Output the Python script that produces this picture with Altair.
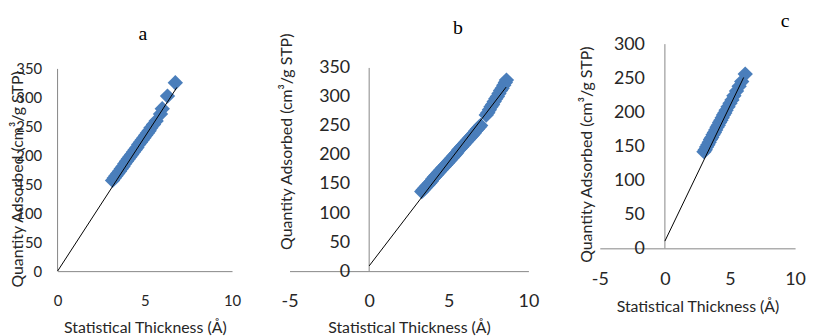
import altair as alt
import pandas as pd

# ---------------- data ----------------
a_thick = [3.15, 3.25, 3.35, 3.45, 3.55, 3.65, 3.75, 3.85, 3.95, 4.05, 4.15, 4.25, 4.35, 4.45,
           4.55, 4.65, 4.75, 4.85, 4.95, 5.05, 5.15, 5.25, 5.35, 5.5, 5.65, 5.9, 6.0, 6.3, 6.75]
a_qty = [157, 161, 165, 169, 173, 177, 181, 186, 190, 194, 198, 202, 206, 210,
         214, 219, 223, 227, 231, 235, 239, 243, 248, 254, 260, 272, 281, 303, 326]
a_fit_x = [0, 6.84]
a_fit_y = [0, 318]

b_thick = [3.3, 3.4, 3.5, 3.6, 3.7, 3.8, 3.9, 4.0, 4.1, 4.2, 4.3, 4.4, 4.5, 4.6, 4.7, 4.8, 4.9,
           5.0, 5.1, 5.2, 5.3, 5.4, 5.5, 5.6, 5.7, 5.8, 5.9, 6.0, 6.1, 6.2, 6.3, 6.4, 6.5, 6.6,
           6.7, 6.8, 6.9, 7.0,
           7.35, 7.45, 7.55, 7.65, 7.75, 7.85, 7.95, 8.05, 8.15, 8.25, 8.35, 8.45, 8.55, 8.62]
b_qty = [137, 140, 143, 146, 149, 152, 155, 159, 162, 165, 168, 171, 174, 177, 180, 183, 186,
         189, 192, 195, 198, 201, 204, 208, 211, 214, 217, 220, 223, 226, 229, 232, 235, 238,
         242, 245, 248, 251,
         269, 273, 278, 283, 287, 292, 297, 301, 306, 311, 315, 320, 325, 329]
b_fit_x = [0, 8.6]
b_fit_y = [9, 317]

c_thick = [3.0, 3.1, 3.2, 3.3, 3.4, 3.5, 3.6, 3.7, 3.8, 3.9, 4.0, 4.1, 4.2, 4.3, 4.4, 4.5,
           4.6, 4.7, 4.85, 5.0, 5.15, 5.3, 5.5, 5.7, 5.9, 6.17]
c_qty = [142, 145, 149, 152, 156, 160, 163, 167, 170, 174, 178, 181, 185, 188, 192, 196,
         199, 203, 208, 213, 218, 224, 231, 238, 245, 256]
c_fit_x = [0, 6.05]
c_fit_y = [10.6, 251]

x_ticks_a = [0, 5, 10]
x_ticks_bc = [-5, 0, 5, 10]
y_ticks_ab = [0, 50, 100, 150, 200, 250, 300, 350]
y_ticks_c = [0, 50, 100, 150, 200, 250, 300]
y_axis_end_ab = 350
y_axis_end_c = 300

X_TITLE = "Statistical Thickness (Å)"
Y_TITLE = "Quantity Adsorbed (cm³/g STP)"

MARK_COLOR = "#4A7EBB"
AXIS_COLOR = "#868686"
LABEL_FONT = "Lato"
TEXT_COLOR = "#262626"

one_row = pd.DataFrame({"k": [0]})


def panel(cfg):
    pts = pd.DataFrame({"x": cfg["xs"], "y": cfg["ys"]})
    fit = pd.DataFrame({"x": cfg["fx"], "y": cfg["fy"]})
    yline = pd.DataFrame({"x": [0], "y": [0], "y2": [cfg["yend"]]})
    xscale = alt.Scale(domain=cfg["xdom"], nice=False, zero=False)
    yscale = alt.Scale(domain=cfg["ydom"], nice=False, zero=False)
    xenc = alt.X(
        "x:Q",
        title=X_TITLE,
        scale=xscale,
        axis=alt.Axis(
            values=cfg["xticks"], ticks=False, grid=False, labelFlush=False,
            labelOverlap=False, domainColor=AXIS_COLOR, domainWidth=1,
            labelExpr="'' + datum.value",
            labelFont=LABEL_FONT, labelFontSize=cfg["lfs"], labelColor=TEXT_COLOR,
            labelPadding=cfg["xpad"],
            titleFont=LABEL_FONT, titleFontSize=cfg["tfs"], titleColor=TEXT_COLOR,
            titleFontWeight="normal", titleBaseline="alphabetic", titleY=cfg["xtitle_y"],
        ),
    )
    yenc = alt.Y(
        "y:Q",
        title=Y_TITLE,
        scale=yscale,
        axis=alt.Axis(
            values=cfg["yticks"], ticks=False, grid=False, labelOverlap=False,
            domain=False, offset=cfg["yoff"],
            labelFont=LABEL_FONT, labelFontSize=cfg["lfs"], labelColor=TEXT_COLOR,
            labelPadding=cfg["ypad"],
            titleFont=LABEL_FONT, titleFontSize=cfg["ytfs"], titleColor=TEXT_COLOR,
            titleFontWeight="normal", titleBaseline="alphabetic", titleAngle=270,
            titleAlign="center", titleX=cfg["ytitle_x"], titleY=cfg["ytitle_y"],
        ),
    )
    axis_line = alt.Chart(yline).mark_rule(color=AXIS_COLOR, strokeWidth=1).encode(
        x=xenc, y=yenc, y2="y2:Q"
    )
    points = alt.Chart(pts).mark_point(
        shape="diamond", filled=True, size=240, opacity=1, color=MARK_COLOR
    ).encode(x=xenc, y=yenc)
    line = alt.Chart(fit).mark_line(color="#000000", strokeWidth=1).encode(x=xenc, y=yenc)
    letter = alt.Chart(one_row).mark_text(
        text=cfg["letter"], font="Liberation Serif", fontSize=20, color="#000000",
        align="center", baseline="middle"
    ).encode(x=alt.value(cfg["lx"]), y=alt.value(cfg["ly"]))
    spacer = alt.Chart(one_row).mark_rect(color="#ffffff").encode(
        x=alt.value(cfg["sx"][0]), x2=alt.value(cfg["sx"][1]),
        y=alt.value(cfg["sy"]), y2=alt.value(cfg["sy"] + 1),
    )
    return alt.layer(points, axis_line, line, letter, spacer).properties(
        width=cfg["w"], height=cfg["h"]
    )


# all plot areas start at the same top (page y=43); a and b reach below to y=0
pa = panel(dict(xs=a_thick, ys=a_qty, fx=a_fit_x, fy=a_fit_y, xdom=[0, 10], ydom=[0, 392.9],
                yend=y_axis_end_ab,
                xticks=x_ticks_a, yticks=y_ticks_ab, w=176, h=229, yoff=0,
                lfs=15, tfs=16, ytfs=16, xpad=22.5, ypad=16, xtitle_y=61.8,
                ytitle_x=-35, ytitle_y=136, letter="a", lx=86, ly=-10,
                sx=(-50, 204), sy=-35))
pb = panel(dict(xs=b_thick, ys=b_qty, fx=b_fit_x, fy=b_fit_y, xdom=[-5, 10], ydom=[0, 391],
                yend=y_axis_end_ab,
                xticks=x_ticks_bc, yticks=y_ticks_ab, w=241, h=229, yoff=-80.7,
                lfs=18, tfs=16, ytfs=16, xpad=21.3, ypad=20, xtitle_y=61.8,
                ytitle_x=-78.7, ytitle_y=98, letter="b", lx=170, ly=-16,
                sx=(-30, 274), sy=-35))
pc = panel(dict(xs=c_thick, ys=c_qty, fx=c_fit_x, fy=c_fit_y, xdom=[-5, 10], ydom=[0, 300],
                yend=y_axis_end_c,
                xticks=x_ticks_bc, yticks=y_ticks_c, w=197, h=206, yoff=-65.7,
                lfs=18, tfs=16, ytfs=16, xpad=22.3, ypad=20.7, xtitle_y=64,
                ytitle_x=-73.7, ytitle_y=111, letter="c", lx=187, ly=-23,
                sx=(-39, 201), sy=-35))

chart = alt.hconcat(pa, pb, pc, spacing=0).properties(
    padding=0, background="#ffffff"
).configure_view(stroke=None)

chart.save("out.html", embed_options={"renderer": "svg", "actions": False})
